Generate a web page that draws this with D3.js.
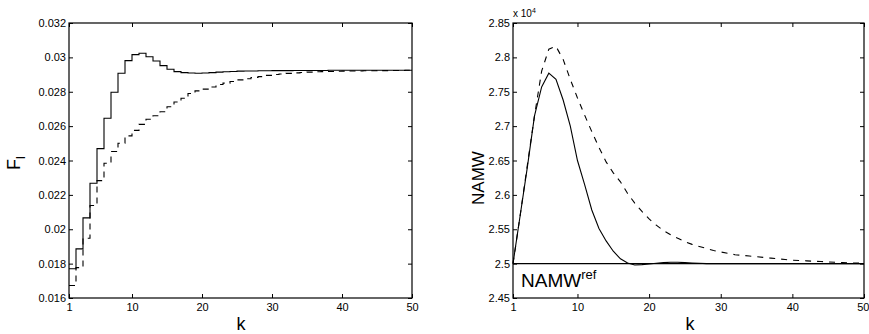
<!DOCTYPE html>
<html>
<head>
<meta charset="utf-8">
<script src="https://cdn.jsdelivr.net/npm/d3@7"></script>
<style>
  body { margin: 0; background: #fff; }
  .axis text { font-family: "Liberation Sans", Arial, sans-serif; font-size: 11px; fill: #000; }
  .axis path, .axis line { stroke: #000; }
</style>
</head>
<body>
<div class="chart"></div>
<script>
var kValues = d3.range(1, 51);

// left panel: F_l per step k
var fSolid = [0.01770, 0.01886, 0.02066, 0.02268, 0.02469, 0.02646, 0.02797, 0.02908, 0.02981, 0.03016,
              0.03024, 0.03004, 0.02979, 0.02952, 0.02931, 0.02917, 0.02911, 0.02909, 0.02908, 0.02909,
              0.02911, 0.02914, 0.02916, 0.02918, 0.02920, 0.02921, 0.02921, 0.02922, 0.02922, 0.02923,
              0.02923, 0.02923, 0.02924, 0.02924, 0.02924, 0.02924, 0.02924, 0.02925, 0.02925, 0.02925,
              0.02925, 0.02925, 0.02925, 0.02925, 0.02925, 0.02925, 0.02925, 0.02925, 0.02925, 0.02925];
var fDashed = [0.01673, 0.01777, 0.01948, 0.02138, 0.02283, 0.02384, 0.02452, 0.02500, 0.02543, 0.02575,
               0.02610, 0.02640, 0.02660, 0.02684, 0.02713, 0.02740, 0.02762, 0.02790, 0.02805, 0.02815,
               0.02828, 0.02842, 0.02850, 0.02860, 0.02869, 0.02876, 0.02883, 0.02888, 0.02895, 0.02900,
               0.02903, 0.02907, 0.02910, 0.02912, 0.02914, 0.02916, 0.02917, 0.02918, 0.02919, 0.02920,
               0.02921, 0.02921, 0.02922, 0.02922, 0.02923, 0.02923, 0.02924, 0.02924, 0.02925, 0.02925];

// right panel: NAMW per step k
var namwSolid = [25000, 25700, 26400, 27150, 27570, 27770, 27680, 27380, 27000, 26500,
                 26150, 25780, 25510, 25330, 25180, 25070, 25010, 24980, 24985, 24995,
                 25005, 25015, 25020, 25020, 25015, 25010, 25005, 25000, 25000, 25000,
                 25000, 25000, 25000, 25000, 25000, 25000, 25000, 25000, 25000, 25000,
                 25000, 25000, 25000, 25000, 25000, 25000, 25000, 25000, 25000, 25000];
var namwDashed = [25000, 25700, 26430, 27150, 27800, 28120, 28160, 27970, 27680, 27410,
                  27160, 26920, 26690, 26480, 26320, 26190, 26020, 25880, 25760, 25650,
                  25560, 25480, 25420, 25370, 25320, 25280, 25250, 25220, 25190, 25170,
                  25150, 25130, 25120, 25110, 25100, 25090, 25080, 25070, 25060, 25050,
                  25045, 25040, 25035, 25030, 25025, 25020, 25015, 25010, 25010, 25005];
var namwRef = 25000;

var xTicks = [1, 10, 20, 30, 40, 50];
var fTicks = [0.016, 0.018, 0.02, 0.022, 0.024, 0.026, 0.028, 0.03, 0.032];
var namwTicks = [24500, 25000, 25500, 26000, 26500, 27000, 27500, 28000, 28500];

var w = 869;
var h = 334;

var svg = d3.select(".chart")
            .append("svg")
            .attr("width", w)
            .attr("height", h);

function panel(x0, x1, yDomain, yTicks, yFormat, series, curve){
    var xScale = d3.scaleLinear().domain([1, 50]).range([x0, x1]);
    var yScale = d3.scaleLinear().domain(yDomain).range([298, 23]);
    var g = svg.append("g");

    var line = d3.line()
                 .x(function(d){ return xScale(d[0]); })
                 .y(function(d){ return yScale(d[1]); })
                 .curve(curve);

    series.forEach(function(s){
        g.append("path")
         .datum(kValues.map(function(k, i){ return [k, s.values[i]]; }))
         .attr("d", line)
         .attr("fill", "none")
         .attr("stroke", "#000")
         .attr("stroke-width", 1.1)
         .attr("stroke-dasharray", s.dash);
    });

    //Axes with inward ticks on all four sides
    var bottom = g.append("g").attr("class", "axis")
     .attr("transform", "translate(0,298)")
     .call(d3.axisBottom(xScale).tickValues(xTicks).tickSizeInner(-4).tickSizeOuter(0).tickPadding(5));
    g.append("g").attr("class", "axis")
     .attr("transform", "translate(0,23)")
     .call(d3.axisTop(xScale).tickValues(xTicks).tickFormat("").tickSizeInner(-4).tickSizeOuter(0));
    g.append("g").attr("class", "axis")
     .attr("transform", "translate(" + x0 + ",0)")
     .call(d3.axisLeft(yScale).tickValues(yTicks).tickFormat(yFormat).tickSizeInner(-4).tickSizeOuter(0).tickPadding(3));
    g.append("g").attr("class", "axis")
     .attr("transform", "translate(" + x1 + ",0)")
     .call(d3.axisRight(yScale).tickValues(yTicks).tickFormat("").tickSizeInner(-4).tickSizeOuter(0));

    //Keep the last x label inside the page
    bottom.selectAll(".tick text")
          .filter(function(d){ return d == 50 && x1 > 850; })
          .attr("text-anchor", "end")
          .attr("dx", 5);

    g.append("rect")
     .attr("x", x0).attr("y", 23)
     .attr("width", x1 - x0).attr("height", 275)
     .attr("fill", "none")
     .attr("stroke", "#000")
     .attr("stroke-width", 1.2);

    g.selectAll(".axis .domain").remove();
    return {x: xScale, y: yScale, g: g};
}

var left = panel(69, 412, [0.016, 0.032], fTicks, function(d){ return String(+d.toFixed(3)); },
                 [{values: fSolid, dash: null}, {values: fDashed, dash: "6,5"}], d3.curveStepAfter);

var right = panel(513, 864, [24500, 28500], namwTicks, function(d){ return String(+(d / 1e4).toFixed(2)); },
                  [{values: namwSolid, dash: null}, {values: namwDashed, dash: "6,6"}], d3.curveLinear);

//Reference line
right.g.append("line")
    .attr("x1", right.x(1)).attr("x2", right.x(50))
    .attr("y1", right.y(namwRef)).attr("y2", right.y(namwRef))
    .attr("stroke", "#000")
    .attr("stroke-width", 1.1);

var font = "'Liberation Sans', Arial, sans-serif";

//Axis labels
svg.append("text")
   .attr("x", 241).attr("y", 330)
   .attr("text-anchor", "middle")
   .style("font-family", font).style("font-size", "18px")
   .text("k");
svg.append("text")
   .attr("x", 690).attr("y", 330)
   .attr("text-anchor", "middle")
   .style("font-family", font).style("font-size", "18px")
   .text("k");

var fl = svg.append("text")
   .attr("transform", "translate(20,163) rotate(-90)")
   .attr("text-anchor", "middle")
   .style("font-family", font).style("font-size", "18px");
fl.append("tspan").text("F");
fl.append("tspan").attr("dy", 5).style("font-size", "13px").text("l");

svg.append("text")
   .attr("transform", "translate(484,178) rotate(-90)")
   .attr("text-anchor", "middle")
   .style("font-family", font).style("font-size", "17px")
   .text("NAMW");

var mult = svg.append("text")
   .attr("x", 513).attr("y", 17)
   .style("font-family", font).style("font-size", "10px");
mult.append("tspan").text("x 10");
mult.append("tspan").attr("dy", -4).style("font-size", "7px").text("4");

var refLabel = svg.append("text")
   .attr("x", 521).attr("y", 287)
   .style("font-family", font).style("font-size", "19px");
refLabel.append("tspan").text("NAMW");
refLabel.append("tspan").attr("dy", -8).style("font-size", "13px").text("ref");
</script>
</body>
</html>
